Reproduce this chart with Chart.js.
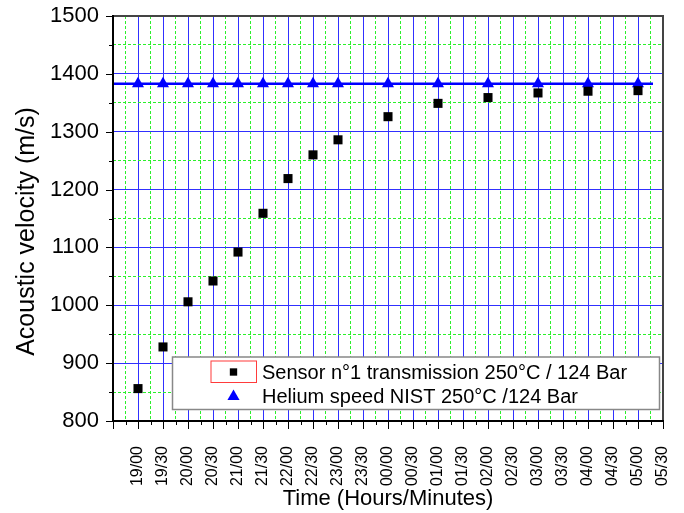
<!DOCTYPE html>
<html>
<head>
<meta charset="utf-8">
<script src="https://cdn.jsdelivr.net/npm/chart.js@4"></script>
<style>
  html, body { margin: 0; padding: 0; background: #fff; }
  #wrap { width: 684px; height: 513px; position: relative; }
</style>
</head>
<body>
<div id="wrap"><canvas id="velocityChart"></canvas></div>
<script>
const timeLabels = ['19/00', '19/30', '20/00', '20/30', '21/00', '21/30', '22/00', '22/30', '23/00', '23/30', '00/00',
  '00/30', '01/00', '01/30', '02/00', '02/30', '03/00', '03/30', '04/00', '04/30', '05/00', '05/30'];

const sensorTimes = ['19/00', '19/30', '20/00', '20/30', '21/00', '21/30', '22/00', '22/30', '23/00',
  '00/00', '01/00', '02/00', '03/00', '04/00', '05/00'];
const sensorVelocity = [856, 928, 1006, 1042, 1092, 1159, 1219, 1260, 1286, 1326, 1349, 1359, 1367, 1370, 1371];

const nistTimes = sensorTimes;
const nistVelocity = [1383, 1383, 1383, 1383, 1383, 1383, 1383, 1383, 1383, 1383, 1383, 1383, 1383, 1383, 1383];
// reference line: from the left axis (18/30) to about 05/15
const nistLineX = [-1, 20.6];
const nistLineY = [1383, 1383];

const sensorLabel = 'Sensor n\u00b01 transmission 250\u00b0C / 124 Bar';
const nistLabel = 'Helium speed NIST 250\u00b0C /124 Bar';

const FONT = 'Arial, "Liberation Sans", sans-serif';
const gridBlue = '#3030ff';
const gridGreen = '#2cf02c';

function toPoints(times, values) {
  return times.map((t, i) => ({ x: timeLabels.indexOf(t), y: values[i] }));
}

const isMajorX = v => Number.isInteger(v);
const isMajorY = v => v % 100 === 0;

// frame, tick marks, legend box and y title
const decorations = {
  id: 'decorations',
  afterDraw(chart) {
    const ctx = chart.ctx;
    const ca = chart.chartArea;
    const xs = chart.scales.x;
    const ys = chart.scales.y;
    ctx.save();

    ctx.strokeStyle = '#000';
    ctx.lineWidth = 1;
    xs.ticks.forEach(t => {
      const px = Math.round(xs.getPixelForValue(t.value)) + 0.5;
      ctx.beginPath();
      ctx.moveTo(px, ca.bottom);
      ctx.lineTo(px, ca.bottom + (isMajorX(t.value) ? 8 : 4));
      ctx.stroke();
    });
    ys.ticks.forEach(t => {
      const py = Math.round(ys.getPixelForValue(t.value)) + 0.5;
      ctx.beginPath();
      ctx.moveTo(ca.left, py);
      ctx.lineTo(ca.left - (isMajorY(t.value) ? 7 : 4), py);
      ctx.stroke();
    });

    // frame
    ctx.lineWidth = 2;
    ctx.strokeStyle = '#444';
    ctx.beginPath();
    ctx.moveTo(ca.left, ca.top);
    ctx.lineTo(ca.right, ca.top);
    ctx.lineTo(ca.right, ca.bottom);
    ctx.stroke();
    ctx.strokeStyle = '#000';
    ctx.beginPath();
    ctx.moveTo(ca.left, ca.top - 1);
    ctx.lineTo(ca.left, ca.bottom);
    ctx.lineTo(ca.right + 1, ca.bottom);
    ctx.stroke();

    // legend
    const x0 = ca.left + 59.5, x1 = ca.right - 3.5;
    const y0 = ca.bottom - 64, y1 = ca.bottom - 11.5;
    ctx.fillStyle = '#fff';
    ctx.fillRect(x0, y0, x1 - x0, y1 - y0);
    ctx.lineWidth = 1.5;
    ctx.strokeStyle = '#888';
    ctx.strokeRect(x0, y0, x1 - x0, y1 - y0);

    const rows = [y0 + 15, y0 + 39.5];
    const markX = x0 + 61;
    ctx.lineWidth = 1;
    ctx.strokeStyle = '#ff3b3b';
    ctx.strokeRect(x0 + 38.5, y0 + 4, 45.5, 21.5);

    chart.data.datasets.filter(d => d.inLegend).forEach((d, i) => {
      ctx.fillStyle = d.backgroundColor;
      Chart.helpers.drawPoint(ctx, {
        pointStyle: d.pointStyle, rotation: 0, borderWidth: 0,
        radius: d.pointStyle === 'rect' ? 5.2 : 7
      }, markX, rows[i]);
      ctx.fillStyle = '#000';
      ctx.font = '20px ' + FONT;
      ctx.textAlign = 'left';
      ctx.textBaseline = 'middle';
      ctx.fillText(d.label, x0 + 89.5, rows[i] + 1);
    });

    // y axis title
    ctx.translate(27, (ca.top + ca.bottom) / 2 + 13);
    ctx.rotate(-Math.PI / 2);
    ctx.fillStyle = '#000';
    ctx.font = '25px ' + FONT;
    ctx.textAlign = 'center';
    ctx.textBaseline = 'middle';
    ctx.fillText('Acoustic velocity (m/s)', 0, 0);
    ctx.restore();
  }
};

const ctx = document.getElementById('velocityChart').getContext('2d');
new Chart(ctx, {
  type: 'scatter',
  data: {
    datasets: [
      {
        label: sensorLabel,
        inLegend: true,
        data: toPoints(sensorTimes, sensorVelocity),
        pointStyle: 'rect',
        pointRadius: 6.4,
        backgroundColor: '#000',
        borderColor: '#000',
        borderWidth: 0,
        order: 0
      },
      {
        label: nistLabel,
        inLegend: true,
        data: toPoints(nistTimes, nistVelocity),
        pointStyle: 'triangle',
        pointRadius: 7,
        backgroundColor: '#0000ff',
        borderColor: '#0000ff',
        borderWidth: 0,
        order: 1
      },
      {
        label: 'NIST line',
        data: nistLineX.map((x, i) => ({ x, y: nistLineY[i] })),
        showLine: true,
        pointRadius: 0,
        borderColor: '#0000ff',
        borderWidth: 2.5,
        order: 2
      }
    ]
  },
  options: {
    responsive: true,
    maintainAspectRatio: false,
    devicePixelRatio: 1,
    animation: false,
    layout: { padding: { top: 16, right: 21, left: 0, bottom: 0 } },
    plugins: { legend: { display: false }, tooltip: { enabled: false } },
    scales: {
      x: {
        type: 'linear',
        min: -1,
        max: 21,
        afterFit(scale) { scale.height = 92; scale.paddingLeft = 0; scale.paddingRight = 0; },
        grid: {
          drawTicks: false,
          lineWidth: 1,
          color: c => isMajorX(c.tick.value) ? gridBlue : gridGreen
        },
        border: {
          display: false,
          dash: c => isMajorX(c.tick.value) ? [] : [3, 2]
        },
        ticks: {
          stepSize: 0.5,
          autoSkip: false,
          minRotation: 90,
          maxRotation: 90,
          padding: 25,
          color: '#000',
          font: { family: FONT, size: 16 },
          callback: v => (isMajorX(v) && v >= 0) ? timeLabels[v] : ''
        },
        title: {
          display: true,
          text: 'Time (Hours/Minutes)',
          color: '#000',
          font: { family: FONT, size: 22, lineHeight: 1.2 },
          padding: { top: 0, bottom: 1 }
        }
      },
      y: {
        min: 800,
        max: 1500,
        afterFit(scale) { scale.width = 113; scale.paddingTop = 0; scale.paddingBottom = 0; },
        grid: {
          drawTicks: false,
          lineWidth: 1,
          color: c => isMajorY(c.tick.value) ? gridBlue : gridGreen
        },
        border: {
          display: false,
          dash: c => isMajorY(c.tick.value) ? [] : [3, 2]
        },
        ticks: {
          stepSize: 50,
          autoSkip: false,
          padding: 14,
          color: '#000',
          font: { family: FONT, size: 22 },
          callback: v => isMajorY(v) ? v : ''
        }
      }
    }
  },
  plugins: [decorations]
});
</script>
</body>
</html>
